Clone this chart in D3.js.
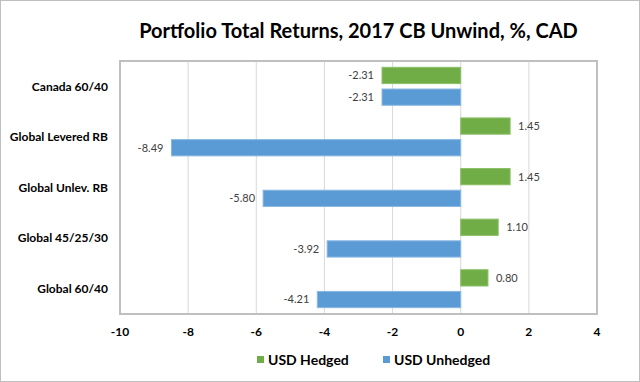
<!DOCTYPE html>
<html>
<head>
<meta charset="utf-8">
<script src="https://cdn.jsdelivr.net/npm/d3@7"></script>
<style>
  body { margin: 0; background: #fff; }
  svg { display: block; font-family: Lato, "Open Sans", sans-serif; }
</style>
</head>
<body>
<div id="chart"></div>
<script>
// categories, top to bottom
const CATEGORIES = ["Canada 60/40", "Global Levered RB", "Global Unlev. RB", "Global 45/25/30", "Global 60/40"];
const SERIES = ["USD Hedged", "USD Unhedged"];
const HEDGED = [-2.31, 1.45, 1.45, 1.10, 0.80];
const UNHEDGED = [-2.31, -8.49, -5.80, -3.92, -4.21];
const X_TICKS = [-10, -8, -6, -4, -2, 0, 2, 4];

const COLORS = { "USD Hedged": "#70ad47", "USD Unhedged": "#5b9bd5" };

let width = 640, height = 382;
let margin = { top: 61, right: 43, bottom: 68, left: 120 };

let svg = d3.select('#chart')
    .append('svg')
    .attr('width', width)
    .attr('height', height);

// outer frame
svg.append('rect')
    .attr('x', 0.5).attr('y', 0.5)
    .attr('width', width - 1).attr('height', height - 1)
    .attr('fill', '#fff')
    .attr('stroke', '#bfbfbf');

let x = d3.scaleLinear()
    .domain([-10, 4])
    .range([margin.left, width - margin.right]);

let y = d3.scaleBand()
    .domain(CATEGORIES)
    .range([margin.top, height - margin.bottom])
    .paddingInner(0.25)
    .paddingOuter(0.125);

let ySub = d3.scaleBand()
    .domain(SERIES)
    .range([0, y.bandwidth()])
    .paddingInner(0.25);

// grid lines
svg.append('g')
    .selectAll('line')
    .data(X_TICKS)
    .enter()
    .append('line')
    .attr('x1', d => x(d)).attr('x2', d => x(d))
    .attr('y1', margin.top).attr('y2', height - margin.bottom)
    .attr('stroke', '#d9d9d9')
    .attr('stroke-width', 1);

// plot border
svg.append('rect')
    .attr('x', margin.left).attr('y', margin.top)
    .attr('width', width - margin.left - margin.right)
    .attr('height', height - margin.top - margin.bottom)
    .attr('fill', 'none')
    .attr('stroke', '#bfbfbf')
    .attr('stroke-width', 2);

// bar data
let rows = [];
CATEGORIES.forEach((c, i) => {
    rows.push({ cat: c, series: "USD Hedged", value: HEDGED[i] });
    rows.push({ cat: c, series: "USD Unhedged", value: UNHEDGED[i] });
});

let bars = svg.append('g');
bars.selectAll('rect')
    .data(rows)
    .enter()
    .append('rect')
    .attr('x', d => x(Math.min(0, d.value)))
    .attr('width', d => Math.abs(x(d.value) - x(0)))
    .attr('y', d => y(d.cat) + ySub(d.series))
    .attr('height', ySub.bandwidth())
    .attr('fill', d => COLORS[d.series])
    .attr('stroke', d => d.series === "USD Hedged" ? "#8cc068" : "#8ab8e2")
    .attr('stroke-width', 1);

// data labels
bars.selectAll('text')
    .data(rows)
    .enter()
    .append('text')
    .attr('x', d => d.value < 0 ? x(d.value) - 8 : x(d.value) + 8)
    .attr('y', d => y(d.cat) + ySub(d.series) + ySub.bandwidth() / 2)
    .attr('dy', '0.35em')
    .attr('text-anchor', d => d.value < 0 ? 'end' : 'start')
    .attr('font-size', 11)
    .attr('fill', '#404040')
    .text(d => d.value.toFixed(2));

// category labels
svg.append('g')
    .selectAll('text')
    .data(CATEGORIES)
    .enter()
    .append('text')
    .attr('x', 108)
    .attr('y', d => y(d) + y.bandwidth() / 2)
    .attr('dy', '0.35em')
    .attr('text-anchor', 'end')
    .attr('font-size', 12)
    .attr('font-weight', 'bold')
    .attr('fill', '#000')
    .text(d => d);

// x tick labels
svg.append('g')
    .selectAll('text')
    .data(X_TICKS)
    .enter()
    .append('text')
    .attr('x', d => x(d))
    .attr('y', 332)
    .attr('dy', '0.35em')
    .attr('text-anchor', 'middle')
    .attr('font-size', 12)
    .attr('font-weight', 'bold')
    .text(d => d);

// title
svg.append('text')
    .attr('x', (margin.left + width - margin.right) / 2)
    .attr('y', 38)
    .attr('text-anchor', 'middle')
    .attr('font-size', 20)
    .attr('font-weight', 'bold')
    .attr('fill', '#000')
    .text('Portfolio Total Returns, 2017 CB Unwind, %, CAD');

// legend
let legendX = [257, 383];
let legend = svg.append('g');
SERIES.forEach((s, i) => {
    legend.append('rect')
        .attr('x', legendX[i]).attr('y', 356)
        .attr('width', 7).attr('height', 7)
        .attr('fill', COLORS[s]);
    legend.append('text')
        .attr('x', legendX[i] + 11)
        .attr('y', 360)
        .attr('dy', '0.35em')
        .attr('font-size', 14)
        .attr('font-weight', 'bold')
        .attr('fill', '#000')
        .text(s);
});
</script>
</body>
</html>
